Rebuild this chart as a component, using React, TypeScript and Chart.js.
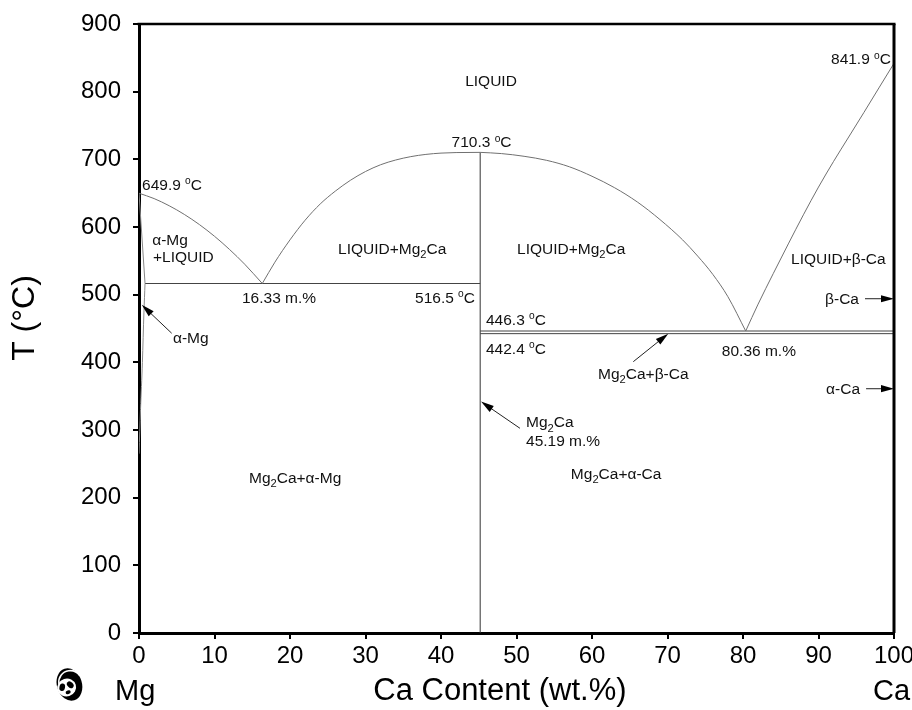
import React, { useEffect, useRef } from "react";
import { Chart, registerables } from "chart.js";

Chart.register(...registerables);

// ---- axis ticks ----
const xTickValues = [0, 10, 20, 30, 40, 50, 60, 70, 80, 90, 100];
const yTickValues = [0, 100, 200, 300, 400, 500, 600, 700, 800, 900];

// ---- phase boundaries [Ca wt.%, T °C] ----
const liquidusMgSide: number[][] = [[0, 649.9], [2, 642], [4, 631.4], [6, 618.6], [8, 603.6], [10, 586.3], [12, 566.7], [14, 545], [16.33, 516.5]];
const liquidusMg2CaLeft: number[][] = [[16.33, 516.5], [18, 548], [20, 581], [22, 610], [24, 634], [26, 653], [28, 669], [30, 682], [32, 692], [34, 699], [36, 704], [38, 707.3], [40, 709.2], [42, 710], [45.19, 710.3]];
const liquidusMg2CaRight: number[][] = [[45.19, 710.3], [48, 708.5], [51, 704.5], [54, 698.5], [57, 689], [60, 675], [63, 658], [66, 637], [69, 611], [72, 581], [74, 557], [76, 530], [78, 497], [80.36, 446.3]];
const liquidusCaSide: number[][] = [[80.36, 446.3], [82, 486], [84, 531], [86, 575], [88, 618], [90, 659], [92, 697], [94, 733], [96, 769], [98, 805.5], [100, 841.9]];
const solidusMg: number[][] = [[0, 649.9], [0.8, 516.5]];
const solvusMg: number[][] = [[0, 265], [0.2, 330], [0.45, 400], [0.65, 473], [0.8, 516.5]];
const eutectic1: number[][] = [[0.8, 516.5], [45.19, 516.5]];
const eutectic2Upper: number[][] = [[45.19, 446.3], [100, 446.3]];
const eutectic2Lower: number[][] = [[45.19, 442.4], [100, 442.4]];
const mg2CaLine: number[][] = [[45.19, 0], [45.19, 710.3]];

// ---- labels (text, Ca wt.%, T °C, align) ----
const labels: { t: string; x: number; y: number; a: "left" | "right" | "center" }[] = [
  { t: "LIQUID", x: 46.62, y: 817, a: "center" },
  { t: "841.9 ^{o}C", x: 99.6, y: 849, a: "right" },
  { t: "710.3 ^{o}C", x: 41.4, y: 726, a: "left" },
  { t: "649.9 ^{o}C", x: 0.4, y: 663, a: "left" },
  { t: "α-Mg", x: 1.75, y: 582, a: "left" },
  { t: "+LIQUID", x: 1.85, y: 557, a: "left" },
  { t: "LIQUID+Mg_{2}Ca", x: 26.36, y: 569, a: "left" },
  { t: "LIQUID+Mg_{2}Ca", x: 50.07, y: 569, a: "left" },
  { t: "LIQUID+β-Ca", x: 86.36, y: 554, a: "left" },
  { t: "16.33 m.%", x: 13.64, y: 496, a: "left" },
  { t: "516.5 ^{o}C", x: 36.56, y: 496, a: "left" },
  { t: "446.3 ^{o}C", x: 45.96, y: 464, a: "left" },
  { t: "442.4 ^{o}C", x: 45.96, y: 421, a: "left" },
  { t: "80.36 m.%", x: 77.2, y: 417, a: "left" },
  { t: "Mg_{2}Ca+β-Ca", x: 60.8, y: 384, a: "left" },
  { t: "β-Ca", x: 95.36, y: 495, a: "right" },
  { t: "α-Ca", x: 95.5, y: 362, a: "right" },
  { t: "α-Mg", x: 4.5, y: 437, a: "left" },
  { t: "Mg_{2}Ca", x: 51.26, y: 312, a: "left" },
  { t: "45.19 m.%", x: 51.26, y: 285, a: "left" },
  { t: "Mg_{2}Ca+α-Mg", x: 14.57, y: 230, a: "left" },
  { t: "Mg_{2}Ca+α-Ca", x: 57.2, y: 236, a: "left" },
];

// ---- arrows: tail -> tip ----
const arrows: { from: number[]; to: number[] }[] = [
  { from: [4.33, 443], to: [0.36, 485] },
  { from: [65.47, 401], to: [70.1, 442.4] },
  { from: [50.46, 302.5], to: [45.3, 342] },
  { from: [96.16, 494], to: [100, 494] },
  { from: [96.3, 361], to: [100, 361] },
];

const FONT = "'Liberation Sans', Arial, sans-serif";

function parseRich(t: string) {
  const out: { s: string; k: number }[] = [];
  const re = /_\{([^}]*)\}|\^\{([^}]*)\}/g;
  let last = 0;
  let m: RegExpExecArray | null;
  while ((m = re.exec(t))) {
    if (m.index > last) out.push({ s: t.slice(last, m.index), k: 0 });
    if (m[1] !== undefined) out.push({ s: m[1], k: 1 });
    else out.push({ s: m[2], k: 2 });
    last = re.lastIndex;
  }
  if (last < t.length) out.push({ s: t.slice(last), k: 0 });
  return out;
}

function drawRich(ctx: CanvasRenderingContext2D, t: string, x: number, yc: number, align: string, size: number) {
  const segs = parseRich(t);
  const fontFor = (k: number) => `${k === 0 ? size : k === 1 ? size * 0.72 : size * 0.66}px ${FONT}`;
  let total = 0;
  const widths = segs.map((sg) => {
    ctx.font = fontFor(sg.k);
    const w = ctx.measureText(sg.s).width;
    total += w;
    return w;
  });
  let cx = align === "right" ? x - total : align === "center" ? x - total / 2 : x;
  const base = yc + size * 0.36;
  ctx.textAlign = "left";
  ctx.textBaseline = "alphabetic";
  segs.forEach((sg, i) => {
    ctx.font = fontFor(sg.k);
    const off = sg.k === 1 ? size * 0.28 : sg.k === 2 ? -size * 0.36 : 0;
    ctx.fillText(sg.s, cx, base + off);
    cx += widths[i];
  });
}

function drawPanda(ctx: CanvasRenderingContext2D, cx: number, cy: number) {
  ctx.save();
  ctx.translate(cx, cy);
  ctx.rotate(-0.3);
  // dark hood
  ctx.fillStyle = "#000";
  ctx.beginPath();
  ctx.ellipse(1.5, 0, 12.5, 16.5, 0, 0, Math.PI * 2);
  ctx.fill();
  // ear highlight arc
  ctx.strokeStyle = "#fff";
  ctx.lineWidth = 1.6;
  ctx.beginPath();
  ctx.arc(3, -2, 11.5, -Math.PI * 0.95, -Math.PI * 0.1);
  ctx.stroke();
  // white face
  ctx.fillStyle = "#fff";
  ctx.beginPath();
  ctx.ellipse(-2, 2, 9.5, 9, 0, 0, Math.PI * 2);
  ctx.fill();
  // eye patches
  ctx.fillStyle = "#000";
  ctx.beginPath();
  ctx.ellipse(-6.2, 0.5, 2.8, 3.8, 0.5, 0, Math.PI * 2);
  ctx.fill();
  ctx.beginPath();
  ctx.ellipse(2.2, 0.5, 2.8, 3.8, -0.5, 0, Math.PI * 2);
  ctx.fill();
  // nose
  ctx.beginPath();
  ctx.ellipse(-2, 7, 2.6, 1.8, 0, 0, Math.PI * 2);
  ctx.fill();
  ctx.restore();
}

const overlay = {
  id: "overlay",
  afterDatasetsDraw(chart: any) {
    const { ctx, chartArea: a, scales } = chart;
    const xs = scales.x;
    const ys = scales.y;
    ctx.save();
    // frame top & right
    ctx.strokeStyle = "#000";
    ctx.lineWidth = 2.5;
    ctx.beginPath();
    ctx.moveTo(a.left - 1.5, a.top);
    ctx.lineTo(a.right + 1.5, a.top);
    ctx.stroke();
    ctx.lineWidth = 3;
    ctx.beginPath();
    ctx.moveTo(a.right, a.top);
    ctx.lineTo(a.right, a.bottom);
    ctx.stroke();

    // arrows
    arrows.forEach((ar) => {
      const x1 = xs.getPixelForValue(ar.from[0]);
      const y1 = ys.getPixelForValue(ar.from[1]);
      const x2 = xs.getPixelForValue(ar.to[0]);
      const y2 = ys.getPixelForValue(ar.to[1]);
      const ang = Math.atan2(y2 - y1, x2 - x1);
      const L = 13;
      const W = 3.6;
      ctx.strokeStyle = "#222";
      ctx.lineWidth = 1;
      ctx.beginPath();
      ctx.moveTo(x1, y1);
      ctx.lineTo(x2 - Math.cos(ang) * L * 0.8, y2 - Math.sin(ang) * L * 0.8);
      ctx.stroke();
      ctx.fillStyle = "#000";
      ctx.beginPath();
      ctx.moveTo(x2, y2);
      ctx.lineTo(x2 - Math.cos(ang) * L - Math.sin(ang) * W, y2 - Math.sin(ang) * L + Math.cos(ang) * W);
      ctx.lineTo(x2 - Math.cos(ang) * L + Math.sin(ang) * W, y2 - Math.sin(ang) * L - Math.cos(ang) * W);
      ctx.closePath();
      ctx.fill();
    });

    // labels
    ctx.fillStyle = "#111";
    labels.forEach((l) => {
      drawRich(ctx, l.t, xs.getPixelForValue(l.x), ys.getPixelForValue(l.y), l.a, 15.5);
    });
    ctx.restore();
  },
  afterDraw(chart: any) {
    const { ctx, chartArea: a } = chart;
    ctx.save();
    ctx.fillStyle = "#000";
    // x title
    ctx.font = `31px ${FONT}`;
    ctx.textAlign = "center";
    ctx.textBaseline = "middle";
    ctx.fillText("Ca Content (wt.%)", a.left + (a.right - a.left) * 0.478, 691);
    // element labels
    ctx.font = `29px ${FONT}`;
    ctx.textAlign = "left";
    ctx.fillText("Mg", 115, 692);
    ctx.fillText("Ca", 873, 692);
    // y title
    ctx.save();
    ctx.translate(25, 318);
    ctx.rotate(-Math.PI / 2);
    ctx.font = `32px ${FONT}`;
    ctx.textAlign = "center";
    ctx.textBaseline = "middle";
    ctx.fillText("T (°C)", 0, 0);
    ctx.restore();
    drawPanda(ctx, 68, 685);
    ctx.restore();
  },
};

function line(data: number[][], color: string, width: number, smooth: boolean) {
  return {
    data: data.map(([x, y]) => ({ x, y })),
    showLine: true,
    pointRadius: 0,
    pointHoverRadius: 0,
    borderColor: color,
    borderWidth: width,
    fill: false,
    tension: 0,
    cubicInterpolationMode: smooth ? "monotone" : "default",
  };
}

export default function App() {
  const ref = useRef<HTMLCanvasElement>(null);
  useEffect(() => {
    document.body.style.margin = "0";
    const curve = "#707070";
    const chart = new Chart(ref.current as HTMLCanvasElement, {
      type: "scatter",
      data: {
        datasets: [
          line(liquidusMgSide, curve, 1, true),
          line(liquidusMg2CaLeft, curve, 1, true),
          line(liquidusMg2CaRight, curve, 1, true),
          line(liquidusCaSide, curve, 1, true),
          line(solidusMg, "#888", 1, false),
          line(solvusMg, "#888", 1, true),
          line(eutectic1, "#444", 1, false),
          line(eutectic2Upper, "#444", 1, false),
          line(eutectic2Lower, "#444", 1, false),
          line(mg2CaLine, "#333", 1, false),
        ] as any,
      },
      options: {
        animation: false,
        responsive: false,
        events: [],
        layout: { padding: { left: 0, right: 18, top: 24, bottom: 0 } },
        plugins: { legend: { display: false }, tooltip: { enabled: false } },
        scales: {
          x: {
            type: "linear",
            min: 0,
            max: 100,
            afterBuildTicks: (s: any) => {
              s.ticks = xTickValues.map((v) => ({ value: v }));
            },
            afterFit: (s: any) => {
              s.height = 77;
              s.paddingLeft = 0;
              s.paddingRight = 0;
            },
            ticks: { color: "#000", padding: 3, font: { family: FONT, size: 24 }, maxRotation: 0, autoSkip: false },
            grid: { drawOnChartArea: false, drawTicks: true, tickLength: 6, color: "#000", lineWidth: 2 },
            border: { display: true, color: "#000", width: 3 },
          },
          y: {
            type: "linear",
            min: 0,
            max: 900,
            afterBuildTicks: (s: any) => {
              s.ticks = yTickValues.map((v) => ({ value: v }));
            },
            afterFit: (s: any) => {
              s.width = 139;
              s.paddingTop = 0;
              s.paddingBottom = 0;
            },
            ticks: { color: "#000", padding: 12, font: { family: FONT, size: 24 }, autoSkip: false },
            grid: { drawOnChartArea: false, drawTicks: true, tickLength: 6, color: "#000", lineWidth: 2 },
            border: { display: true, color: "#000", width: 3 },
          },
        },
      } as any,
      plugins: [overlay as any],
    });
    return () => chart.destroy();
  }, []);
  return <canvas ref={ref} width={912} height={710} style={{ display: "block" }} />;
}
